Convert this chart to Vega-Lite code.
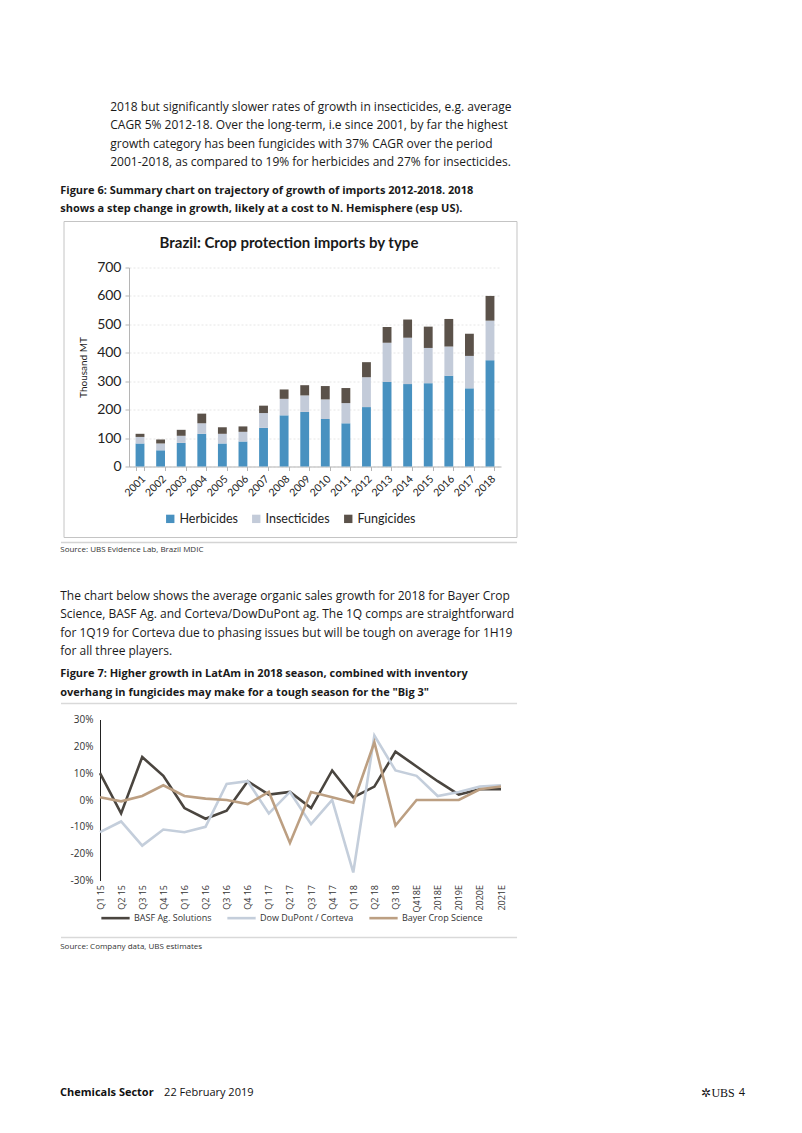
{
  "$schema": "https://vega.github.io/schema/vega-lite/v6.json",
  "background": "white",
  "padding": {"left": 59, "top": 100.5, "right": 5, "bottom": 5},
  "config": {
    "font": "Lato",
    "view": {"stroke": null},
    "title": {"color": "#1a1a1a", "font": "Open Sans"}
  },
  "spacing": 125,
  "resolve": {"scale": {"color": "independent"}, "legend": {"color": "independent"}},
  "vconcat": [
    {
      "spacing": 35,
      "resolve": {"scale": {"color": "independent"}, "legend": {"color": "independent"}},
      "vconcat": [
        {
          "spacing": 0,
          "resolve": {"scale": {"color": "independent"}, "legend": {"color": "independent"}},
          "hconcat": [
            {"width": 1, "height": 1, "data": {"values": []}, "mark": "point"},
            {
              "title": {
                "text": [
                  "2018 but significantly slower rates of growth in insecticides, e.g. average",
                  "CAGR 5% 2012-18. Over the long-term, i.e since 2001, by far the highest",
                  "growth category has been fungicides with 37% CAGR over the period",
                  "2001-2018, as compared to 19% for herbicides and 27% for insecticides."
                ],
                "anchor": "start", "dx": 50, "fontSize": 12, "fontWeight": "normal",
                "lineHeight": 18.4, "offset": 15.5
              },
              "resolve": {"scale": {"color": "independent"}, "legend": {"color": "independent"}},
              "vconcat": [
                {
                  "title": {
                    "text": [
                      "Figure 6: Summary chart on trajectory of growth of imports 2012-2018. 2018",
                      "shows a step change in growth, likely at a cost to N. Hemisphere (esp US)."
                    ],
                    "anchor": "start", "fontSize": 11, "fontWeight": "bold",
                    "lineHeight": 18.4, "offset": 7
                  },
                  "resolve": {"scale": {"color": "independent"}, "legend": {"color": "independent"}},
                  "vconcat": [
                    {
                      "title": {
                        "text": "Source:  UBS Evidence Lab, Brazil MDIC",
                        "orient": "bottom", "anchor": "start",
                        "fontSize": 8, "fontWeight": "normal", "offset": 3, "color": "#333"
                      },
                      "resolve": {"scale": {"color": "independent"}, "legend": {"color": "independent"}},
                      "vconcat": [
                        {
                          "width": 372,
                          "height": 199,
                          "title": {
                            "text": "Brazil: Crop protection imports by type", "font": "Lato", "frame": "bounds",
                            "fontSize": 15, "fontWeight": "bold", "anchor": "middle", "offset": -30
                          },
                          "resolve": {"scale": {"x": "independent"}, "axis": {"y": "independent"}},
                          "layer": [
                            {
                              "data": {
                                "values": [
                                  {"year": "2001", "type": "Herbicides", "value": 81},
                                  {"year": "2001", "type": "Insecticides", "value": 23},
                                  {"year": "2001", "type": "Fungicides", "value": 11},
                                  {"year": "2002", "type": "Herbicides", "value": 57},
                                  {"year": "2002", "type": "Insecticides", "value": 24},
                                  {"year": "2002", "type": "Fungicides", "value": 14},
                                  {"year": "2003", "type": "Herbicides", "value": 83},
                                  {"year": "2003", "type": "Insecticides", "value": 25},
                                  {"year": "2003", "type": "Fungicides", "value": 21},
                                  {"year": "2004", "type": "Herbicides", "value": 115},
                                  {"year": "2004", "type": "Insecticides", "value": 37},
                                  {"year": "2004", "type": "Fungicides", "value": 34},
                                  {"year": "2005", "type": "Herbicides", "value": 81},
                                  {"year": "2005", "type": "Insecticides", "value": 34},
                                  {"year": "2005", "type": "Fungicides", "value": 23},
                                  {"year": "2006", "type": "Herbicides", "value": 88},
                                  {"year": "2006", "type": "Insecticides", "value": 34},
                                  {"year": "2006", "type": "Fungicides", "value": 19},
                                  {"year": "2007", "type": "Herbicides", "value": 136},
                                  {"year": "2007", "type": "Insecticides", "value": 52},
                                  {"year": "2007", "type": "Fungicides", "value": 26},
                                  {"year": "2008", "type": "Herbicides", "value": 180},
                                  {"year": "2008", "type": "Insecticides", "value": 58},
                                  {"year": "2008", "type": "Fungicides", "value": 33},
                                  {"year": "2009", "type": "Herbicides", "value": 192},
                                  {"year": "2009", "type": "Insecticides", "value": 58},
                                  {"year": "2009", "type": "Fungicides", "value": 36},
                                  {"year": "2010", "type": "Herbicides", "value": 167},
                                  {"year": "2010", "type": "Insecticides", "value": 69},
                                  {"year": "2010", "type": "Fungicides", "value": 47},
                                  {"year": "2011", "type": "Herbicides", "value": 152},
                                  {"year": "2011", "type": "Insecticides", "value": 71},
                                  {"year": "2011", "type": "Fungicides", "value": 53},
                                  {"year": "2012", "type": "Herbicides", "value": 209},
                                  {"year": "2012", "type": "Insecticides", "value": 105},
                                  {"year": "2012", "type": "Fungicides", "value": 53},
                                  {"year": "2013", "type": "Herbicides", "value": 297},
                                  {"year": "2013", "type": "Insecticides", "value": 138},
                                  {"year": "2013", "type": "Fungicides", "value": 56},
                                  {"year": "2014", "type": "Herbicides", "value": 290},
                                  {"year": "2014", "type": "Insecticides", "value": 163},
                                  {"year": "2014", "type": "Fungicides", "value": 64},
                                  {"year": "2015", "type": "Herbicides", "value": 293},
                                  {"year": "2015", "type": "Insecticides", "value": 124},
                                  {"year": "2015", "type": "Fungicides", "value": 75},
                                  {"year": "2016", "type": "Herbicides", "value": 319},
                                  {"year": "2016", "type": "Insecticides", "value": 103},
                                  {"year": "2016", "type": "Fungicides", "value": 97},
                                  {"year": "2017", "type": "Herbicides", "value": 275},
                                  {"year": "2017", "type": "Insecticides", "value": 114},
                                  {"year": "2017", "type": "Fungicides", "value": 78},
                                  {"year": "2018", "type": "Herbicides", "value": 374},
                                  {"year": "2018", "type": "Insecticides", "value": 139},
                                  {"year": "2018", "type": "Fungicides", "value": 87}
                                ]
                              },
                              "transform": [
                                {"calculate": "indexof(['Herbicides', 'Insecticides', 'Fungicides'], datum.type)", "as": "stackOrder"}
                              ],
                              "mark": {"type": "bar"},
                              "encoding": {
                                "x": {
                                  "field": "year", "type": "ordinal",
                                  "scale": {"paddingInner": 0.57, "paddingOuter": 0.32},
                                  "axis": {
                                    "title": null, "labelAngle": -45, "labelFontSize": 10.5,
                                    "labelColor": "#222", "domainColor": "#b5b5b5", "tickColor": "#b5b5b5",
                                    "tickSize": 4, "tickBand": "extent", "labelPadding": 3
                                  }
                                },
                                "y": {
                                  "field": "value", "type": "quantitative", "stack": "zero",
                                  "scale": {"domain": [0, 700], "nice": false},
                                  "axis": {
                                    "values": [0, 100, 200, 300, 400, 500, 600, 700],
                                    "title": "Thousand MT", "titleFontSize": 10, "titleFontWeight": "normal",
                                    "titleColor": "#222", "titlePadding": 8,
                                    "labelFontSize": 14, "labelColor": "#222",
                                    "grid": true, "gridColor": "#e6e6e6", "gridDash": [2, 2],
                                    "domainColor": "#b5b5b5", "tickColor": "#b5b5b5", "tickSize": 4, "labelPadding": 4
                                  }
                                },
                                "order": {"field": "stackOrder", "type": "quantitative", "sort": "ascending"},
                                "color": {
                                  "field": "type", "type": "nominal",
                                  "scale": {
                                    "domain": ["Herbicides", "Insecticides", "Fungicides"],
                                    "range": ["#4891c0", "#c3cbd9", "#5b524a"]
                                  },
                                  "legend": {
                                    "orient": "none", "legendX": 35, "legendY": 245,
                                    "title": null, "direction": "horizontal",
                                    "symbolType": "square", "symbolSize": 70, "symbolStrokeWidth": 0,
                                    "labelFontSize": 12.5, "labelColor": "#222", "columnPadding": 12, "labelOffset": 3
                                  }
                                }
                              }
                            },
                            {
                              "data": {"values": [{"frame": "chart border"}]},
                              "mark": {"type": "rect", "fill": null, "stroke": "#c4c4c4", "strokeWidth": 1},
                              "encoding": {
                                "x": {"datum": -0.1747, "type": "quantitative", "scale": {"domain": [0, 1]}, "axis": null},
                                "x2": {"datum": 1.043},
                                "y": {"datum": 861.8, "type": "quantitative", "scale": {"domain": [0, 700], "nice": false}, "axis": null},
                                "y2": {"datum": -249.7}
                              }
                            },
                            {
                              "data": {"values": [{"frame": "figure rule"}]},
                              "mark": {"type": "rule", "color": "#d4d4d4", "strokeWidth": 1.5},
                              "encoding": {
                                "x": {"datum": -0.1828, "type": "quantitative", "scale": {"domain": [0, 1]}, "axis": null},
                                "x2": {"datum": 1.043},
                                "y": {"datum": -267.3, "type": "quantitative", "scale": {"domain": [0, 700], "nice": false}, "axis": null}
                              }
                            }
                          ]
                        }
                      ]
                    }
                  ]
                }
              ]
            }
          ]
        },
        {
          "spacing": 0,
          "resolve": {"scale": {"color": "independent"}, "legend": {"color": "independent"}},
          "hconcat": [
            {"width": 1, "height": 1, "data": {"values": []}, "mark": "point"},
            {
              "title": {
                "text": [
                  "The chart below shows the average organic sales growth for 2018 for Bayer Crop",
                  "Science, BASF Ag. and Corteva/DowDuPont ag. The 1Q comps are straightforward",
                  "for 1Q19 for Corteva due to phasing issues but will be tough on average for 1H19",
                  "for all three players."
                ],
                "anchor": "start", "fontSize": 12, "fontWeight": "normal",
                "lineHeight": 18.4, "offset": 10.3
              },
              "resolve": {"scale": {"color": "independent"}, "legend": {"color": "independent"}},
              "vconcat": [
                {
                  "title": {
                    "text": [
                      "Figure 7: Higher growth in LatAm in 2018 season, combined with inventory",
                      "overhang in fungicides may make for a tough season for the \"Big 3\""
                    ],
                    "anchor": "start", "fontSize": 11, "fontWeight": "bold",
                    "lineHeight": 18.4, "offset": 5
                  },
                  "resolve": {"scale": {"color": "independent"}, "legend": {"color": "independent"}},
                  "vconcat": [
                    {
                      "title": {
                        "text": "Source:  Company data, UBS estimates",
                        "orient": "bottom", "anchor": "start",
                        "fontSize": 8, "fontWeight": "normal", "offset": 5, "color": "#333"
                      },
                      "resolve": {"scale": {"color": "independent"}, "legend": {"color": "independent"}},
                      "vconcat": [
                        {
                          "width": 401,
                          "height": 161,
                          "resolve": {"scale": {"x": "independent"}, "axis": {"y": "independent"}},
                          "layer": [
                            {
                              "mark": {"type": "rule", "color": "#111", "strokeWidth": 1},
                              "encoding": {"y": {"datum": 0, "type": "quantitative", "scale": {"domain": [-30, 30], "nice": false}, "axis": null}}
                            },
                            {
                              "data": {
                                "values": [
                                  {"period": "Q1 15", "company": "BASF Ag. Solutions", "growth": 10},
                                  {"period": "Q2 15", "company": "BASF Ag. Solutions", "growth": -5},
                                  {"period": "Q3 15", "company": "BASF Ag. Solutions", "growth": 16},
                                  {"period": "Q4 15", "company": "BASF Ag. Solutions", "growth": 9},
                                  {"period": "Q1 16", "company": "BASF Ag. Solutions", "growth": -3},
                                  {"period": "Q2 16", "company": "BASF Ag. Solutions", "growth": -7},
                                  {"period": "Q3 16", "company": "BASF Ag. Solutions", "growth": -4},
                                  {"period": "Q4 16", "company": "BASF Ag. Solutions", "growth": 7},
                                  {"period": "Q1 17", "company": "BASF Ag. Solutions", "growth": 2},
                                  {"period": "Q2 17", "company": "BASF Ag. Solutions", "growth": 3},
                                  {"period": "Q3 17", "company": "BASF Ag. Solutions", "growth": -3},
                                  {"period": "Q4 17", "company": "BASF Ag. Solutions", "growth": 11},
                                  {"period": "Q1 18", "company": "BASF Ag. Solutions", "growth": 1},
                                  {"period": "Q2 18", "company": "BASF Ag. Solutions", "growth": 5},
                                  {"period": "Q3 18", "company": "BASF Ag. Solutions", "growth": 18},
                                  {"period": "Q418E", "company": "BASF Ag. Solutions", "growth": 12.5},
                                  {"period": "2018E", "company": "BASF Ag. Solutions", "growth": 7},
                                  {"period": "2019E", "company": "BASF Ag. Solutions", "growth": 2},
                                  {"period": "2020E", "company": "BASF Ag. Solutions", "growth": 4},
                                  {"period": "2021E", "company": "BASF Ag. Solutions", "growth": 4},
                                  {"period": "Q1 15", "company": "Dow DuPont / Corteva", "growth": -12},
                                  {"period": "Q2 15", "company": "Dow DuPont / Corteva", "growth": -8},
                                  {"period": "Q3 15", "company": "Dow DuPont / Corteva", "growth": -17},
                                  {"period": "Q4 15", "company": "Dow DuPont / Corteva", "growth": -11},
                                  {"period": "Q1 16", "company": "Dow DuPont / Corteva", "growth": -12},
                                  {"period": "Q2 16", "company": "Dow DuPont / Corteva", "growth": -10},
                                  {"period": "Q3 16", "company": "Dow DuPont / Corteva", "growth": 6},
                                  {"period": "Q4 16", "company": "Dow DuPont / Corteva", "growth": 7},
                                  {"period": "Q1 17", "company": "Dow DuPont / Corteva", "growth": -5},
                                  {"period": "Q2 17", "company": "Dow DuPont / Corteva", "growth": 3},
                                  {"period": "Q3 17", "company": "Dow DuPont / Corteva", "growth": -9},
                                  {"period": "Q4 17", "company": "Dow DuPont / Corteva", "growth": 0},
                                  {"period": "Q1 18", "company": "Dow DuPont / Corteva", "growth": -27},
                                  {"period": "Q2 18", "company": "Dow DuPont / Corteva", "growth": 24},
                                  {"period": "Q3 18", "company": "Dow DuPont / Corteva", "growth": 11},
                                  {"period": "Q418E", "company": "Dow DuPont / Corteva", "growth": 9},
                                  {"period": "2018E", "company": "Dow DuPont / Corteva", "growth": 1.5},
                                  {"period": "2019E", "company": "Dow DuPont / Corteva", "growth": 3},
                                  {"period": "2020E", "company": "Dow DuPont / Corteva", "growth": 5},
                                  {"period": "2021E", "company": "Dow DuPont / Corteva", "growth": 5.5},
                                  {"period": "Q1 15", "company": "Bayer Crop Science", "growth": 1},
                                  {"period": "Q2 15", "company": "Bayer Crop Science", "growth": -0.5},
                                  {"period": "Q3 15", "company": "Bayer Crop Science", "growth": 1.5},
                                  {"period": "Q4 15", "company": "Bayer Crop Science", "growth": 5.5},
                                  {"period": "Q1 16", "company": "Bayer Crop Science", "growth": 1.5},
                                  {"period": "Q2 16", "company": "Bayer Crop Science", "growth": 0.5},
                                  {"period": "Q3 16", "company": "Bayer Crop Science", "growth": 0},
                                  {"period": "Q4 16", "company": "Bayer Crop Science", "growth": -1.5},
                                  {"period": "Q1 17", "company": "Bayer Crop Science", "growth": 3},
                                  {"period": "Q2 17", "company": "Bayer Crop Science", "growth": -16},
                                  {"period": "Q3 17", "company": "Bayer Crop Science", "growth": 3},
                                  {"period": "Q4 17", "company": "Bayer Crop Science", "growth": 1},
                                  {"period": "Q1 18", "company": "Bayer Crop Science", "growth": -1},
                                  {"period": "Q2 18", "company": "Bayer Crop Science", "growth": 21.5},
                                  {"period": "Q3 18", "company": "Bayer Crop Science", "growth": -9.5},
                                  {"period": "Q418E", "company": "Bayer Crop Science", "growth": 0},
                                  {"period": "2018E", "company": "Bayer Crop Science", "growth": 0},
                                  {"period": "2019E", "company": "Bayer Crop Science", "growth": 0},
                                  {"period": "2020E", "company": "Bayer Crop Science", "growth": 4},
                                  {"period": "2021E", "company": "Bayer Crop Science", "growth": 5}
                                ]
                              },
                              "mark": {"type": "line", "strokeWidth": 2.6},
                              "encoding": {
                                "x": {
                                  "field": "period", "type": "ordinal",
                                  "sort": ["Q1 15","Q2 15","Q3 15","Q4 15","Q1 16","Q2 16","Q3 16","Q4 16","Q1 17","Q2 17","Q3 17","Q4 17","Q1 18","Q2 18","Q3 18","Q418E","2018E","2019E","2020E","2021E"],
                                  "scale": {"type": "point", "padding": 0},
                                  "axis": {
                                    "title": null, "labelAngle": -90, "labelFontSize": 9, "labelFont": "Open Sans",
                                    "labelColor": "#333", "domain": false, "ticks": false, "labelPadding": 4
                                  }
                                },
                                "y": {
                                  "field": "growth", "type": "quantitative",
                                  "scale": {"domain": [-30, 30], "nice": false},
                                  "axis": {
                                    "values": [-30, -20, -10, 0, 10, 20, 30],
                                    "labelExpr": "datum.value + '%'",
                                    "title": null, "grid": false, "ticks": false,
                                    "labelFontSize": 10, "labelFont": "Open Sans", "labelColor": "#333",
                                    "domainColor": "#222", "labelPadding": 7
                                  }
                                },
                                "color": {
                                  "field": "company", "type": "nominal",
                                  "scale": {
                                    "domain": ["BASF Ag. Solutions", "Dow DuPont / Corteva", "Bayer Crop Science"],
                                    "range": ["#4a453f", "#c4cedb", "#bc9f82"]
                                  },
                                  "legend": {
                                    "orient": "none", "legendX": 0, "legendY": 183,
                                    "title": null, "direction": "horizontal",
                                    "symbolType": "stroke", "symbolStrokeWidth": 2.6, "symbolSize": 800,
                                    "labelFontSize": 9, "labelFont": "Open Sans", "labelColor": "#333",
                                    "columnPadding": 10, "labelOffset": 3
                                  }
                                }
                              }
                            },
                            {
                              "data": {"values": [{"frame": "top rule"}]},
                              "mark": {"type": "rule", "color": "#d9d9d9", "strokeWidth": 1.5},
                              "encoding": {
                                "x": {"datum": -0.0973, "type": "quantitative", "scale": {"domain": [0, 1]}, "axis": null},
                                "x2": {"datum": 1.04},
                                "y": {"datum": 35.96, "type": "quantitative", "scale": {"domain": [-30, 30], "nice": false}, "axis": null}
                              }
                            },
                            {
                              "data": {"values": [{"frame": "bottom rule"}]},
                              "mark": {"type": "rule", "color": "#d9d9d9", "strokeWidth": 1.5},
                              "encoding": {
                                "x": {"datum": -0.0973, "type": "quantitative", "scale": {"domain": [0, 1]}, "axis": null},
                                "x2": {"datum": 1.04},
                                "y": {"datum": -51.24, "type": "quantitative", "scale": {"domain": [-30, 30], "nice": false}, "axis": null}
                              }
                            }
                          ]
                        }
                      ]
                    }
                  ]
                }
              ]
            }
          ]
        }
      ]
    },
    {
      "spacing": 0,
      "hconcat": [
        {"width": 1, "height": 1, "data": {"values": []}, "mark": "point"},
        {
          "width": 685,
          "height": 32,
          "encoding": {
            "x": {"datum": 0, "scale": {"domain": [0, 1]}, "axis": null},
            "y": {"datum": 0.5, "scale": {"domain": [0, 1]}, "axis": null}
          },
          "layer": [
            {
              "mark": {"type": "rule", "color": "#333", "strokeWidth": 1.2},
              "encoding": {"y": {"datum": 1}, "x": {"datum": 0}, "x2": {"datum": 1}}
            },
            {
              "data": {"values": [{"t": "Chemicals Sector"}]},
              "mark": {"type": "text", "align": "left", "fontWeight": "bold", "fontSize": 11, "font": "Open Sans", "color": "#111"},
              "encoding": {"text": {"field": "t"}}
            },
            {
              "data": {"values": [{"t": "22 February 2019"}]},
              "mark": {"type": "text", "align": "left", "fontSize": 11, "font": "Open Sans", "color": "#111"},
              "encoding": {"text": {"field": "t"}, "x": {"datum": 0.152}}
            },
            {
              "data": {"values": [{"t": "✲UBS"}]},
              "mark": {"type": "text", "align": "right", "fontSize": 12, "font": "Liberation Serif", "color": "#111"},
              "encoding": {"text": {"field": "t"}, "x": {"datum": 0.985}}
            },
            {
              "data": {"values": [{"t": "4"}]},
              "mark": {"type": "text", "align": "right", "fontSize": 11, "font": "Open Sans", "color": "#111"},
              "encoding": {"text": {"field": "t"}, "x": {"datum": 1}}
            }
          ]
        }
      ]
    }
  ]
}
